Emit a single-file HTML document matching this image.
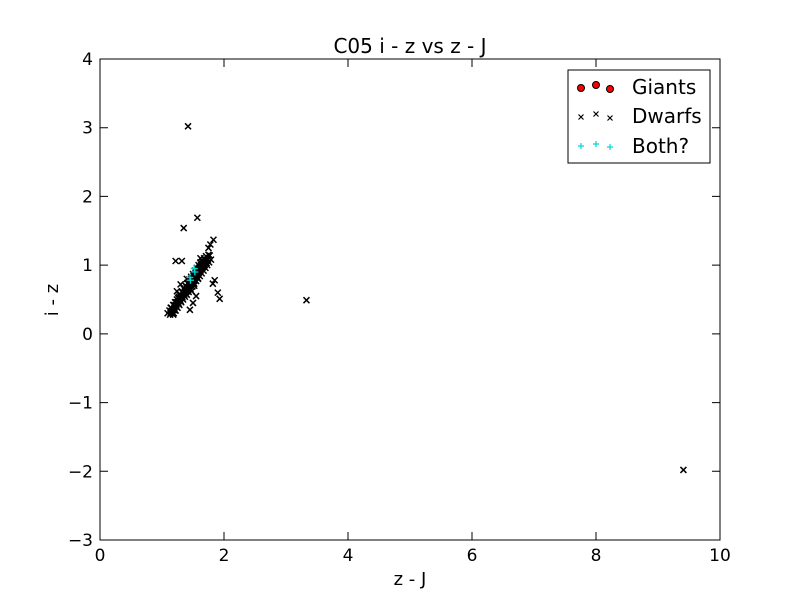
<!DOCTYPE html>
<html><head><meta charset="utf-8"><style>
body{margin:0;background:#fff;}
svg{display:block;font-family:"DejaVu Sans","Liberation Sans",sans-serif;}
</style></head><body>
<svg id="chart" width="800" height="600" viewBox="0 0 800 600">
<rect width="800" height="600" fill="#fff"/>
<g id="marks"></g>
<rect x="100" y="59" width="620" height="481" fill="none" stroke="#000" stroke-width="1"/>
<g id="axes"></g>
<text x="410" y="53" font-size="20" text-anchor="middle">C05 i - z vs z - J</text>
<text x="410" y="585" font-size="18" text-anchor="middle">z - J</text>
<text transform="translate(58,300) rotate(-90)" font-size="18" text-anchor="middle">i - z</text>
<g>
<rect x="568" y="70" width="142" height="93" fill="#fff" stroke="#000"/>
<g>
<circle cx="581" cy="88" r="3.5" fill="#f00" stroke="#000"/><circle cx="596" cy="85" r="3.5" fill="#f00" stroke="#000"/><circle cx="610" cy="89" r="3.5" fill="#f00" stroke="#000"/>
<text x="632" y="94" font-size="20">Giants</text></g>
<g stroke="#000" stroke-width="1.2">
<path d="M578.5 114.5l5 5m0-5l-5 5M593.5 111.5l5 5m0-5l-5 5M607.5 115.5l5 5m0-5l-5 5"/>
<text x="632" y="123" font-size="20" stroke="none">Dwarfs</text></g>
<g stroke="#00d8d8" stroke-width="1.2">
<path d="M578 146h6m-3-3v6M593 144h6m-3-3v6M607 147h6m-3-3v6"/>
<text x="632" y="153" font-size="20" stroke="none" fill="#000">Both?</text></g>
</g>
</svg>
<script>
const xTicks=[0,2,4,6,8,10];
const yTicks=[-3,-2,-1,0,1,2,3,4];
const dwarfX=[1.42,1.35,1.57,1.83,1.78,1.75,1.22,1.32,1.85,1.82,1.90,1.93,1.50,1.45,1.55,1.48,3.33,9.41,
1.13,1.15,1.17,1.14,1.19,1.20,1.18,1.22,1.23,1.21,1.25,1.26,1.24,1.28,1.29,1.27,1.31,1.32,1.30,1.34,1.35,1.33,1.37,1.38,1.36,1.40,1.41,1.39,1.43,1.44,1.42,1.46,1.47,1.45,1.49,1.50,1.48,1.52,1.53,1.51,1.55,1.56,1.54,1.58,1.59,1.57,1.61,1.62,1.60,1.64,1.65,1.63,1.67,1.68,1.66,1.70,1.71,1.69,1.73,1.75,1.72,1.77,1.20,1.25,1.30,1.35,1.40,1.45,1.50,1.55,1.60,1.65,1.70,1.52,1.58,1.62,1.40,1.30,1.24,
1.19,1.09,1.14,1.22,1.12,1.17,1.25,1.15,1.20,1.28,1.18,1.23,1.31,1.21,1.26,1.34,1.24,1.29,1.37,1.27,1.32,1.40,1.30,1.35,1.43,1.33,1.38,1.46,1.36,1.41,1.49,1.39,1.44,1.52,1.42,1.47,1.55,1.45,1.50,1.58,1.48,1.53,1.61,1.51,1.56,1.64,1.54,1.59,1.67,1.57,1.62,1.70,1.60,1.65,1.73,1.63,1.68,1.76,1.66,1.71,1.79,1.69,1.74];
const dwarfY=[3.02,1.54,1.69,1.37,1.30,1.25,1.06,1.06,0.78,0.73,0.60,0.51,0.45,0.35,0.55,0.62,0.49,-1.98,
0.28,0.33,0.30,0.38,0.35,0.42,0.28,0.40,0.46,0.34,0.46,0.52,0.39,0.50,0.56,0.44,0.55,0.61,0.48,0.59,0.66,0.53,0.63,0.70,0.57,0.68,0.74,0.61,0.72,0.79,0.66,0.77,0.83,0.70,0.81,0.87,0.74,0.85,0.92,0.78,0.90,0.96,0.82,0.94,1.00,0.86,0.98,1.04,0.90,1.01,1.07,0.94,1.03,1.10,0.97,1.06,1.13,1.00,1.08,1.15,1.03,1.14,0.36,0.45,0.53,0.60,0.67,0.74,0.81,0.87,0.95,1.00,1.08,0.70,0.80,1.10,0.80,0.72,0.62,
0.30,0.30,0.30,0.34,0.34,0.34,0.38,0.38,0.38,0.42,0.42,0.42,0.46,0.46,0.46,0.50,0.50,0.50,0.54,0.54,0.54,0.57,0.57,0.57,0.61,0.61,0.61,0.65,0.65,0.65,0.69,0.69,0.69,0.73,0.73,0.73,0.77,0.77,0.77,0.81,0.81,0.81,0.84,0.84,0.84,0.88,0.88,0.88,0.92,0.92,0.92,0.96,0.96,0.96,1.00,1.00,1.00,1.04,1.04,1.04,1.08,1.08,1.08];
const bothX=[1.52,1.53,1.45,1.46];
const bothY=[0.95,0.90,0.82,0.78];
const sx=v=>100+v*62, sy=v=>540-(v+3)*481/7;
const NS="http://www.w3.org/2000/svg";
const marks=document.getElementById('marks'), axes=document.getElementById('axes');
function mk(tag,attrs,parent){const e=document.createElementNS(NS,tag);for(const k in attrs)e.setAttribute(k,attrs[k]);parent.appendChild(e);return e;}
dwarfX.forEach((x,i)=>{const X=sx(x),Y=sy(dwarfY[i]);
const p=mk('path',{d:`M${X-3} ${Y-3}l6 6m0-6l-6 6`,stroke:'#000','stroke-width':1.5,fill:'none'},marks);

});
bothX.forEach((x,i)=>{const X=sx(x),Y=sy(bothY[i]);
const p=mk('path',{d:`M${X-3.5} ${Y}h7M${X} ${Y-3.5}v7`,stroke:'#00d8d8','stroke-width':1.3,fill:'none'},marks);

});
xTicks.forEach(t=>{const X=sx(t);
mk('path',{d:`M${X} 540v-8M${X} 59v8`,stroke:'#000'},axes);
const tx=mk('text',{x:X,y:561,'font-size':17,'text-anchor':'middle'},axes);tx.textContent=t;

});
yTicks.forEach(t=>{const Y=sy(t);
mk('path',{d:`M100 ${Y}h8M720 ${Y}h-8`,stroke:'#000'},axes);
const tx=mk('text',{x:93,y:Y+6,'font-size':17,'text-anchor':'end'},axes);tx.textContent=t<0?'\u2212'+(-t):t;

});
</script>
</body></html>
